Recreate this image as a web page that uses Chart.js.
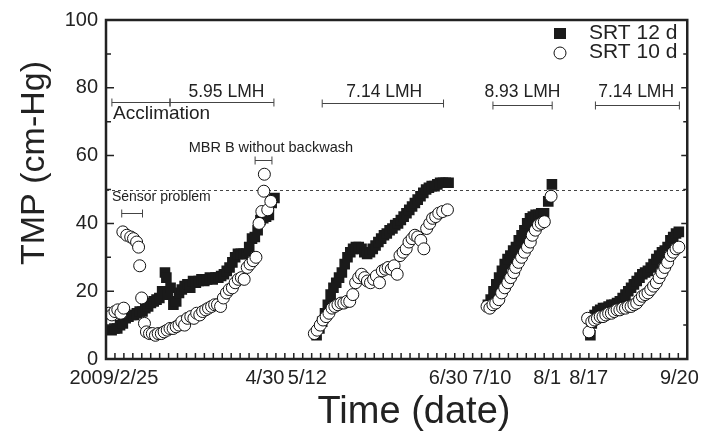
<!DOCTYPE html>
<html>
<head>
<meta charset="utf-8">
<script src="https://cdn.jsdelivr.net/npm/chart.js@4.4.1/dist/chart.umd.min.js"></script>
<style>
  html, body { margin: 0; padding: 0; background: #fff; }
</style>
</head>
<body>
<canvas id="tmpChart" width="706" height="440"></canvas>
<script>
// x = days since 2009/2/25, y = TMP (cm-Hg)
const srt12Days = [
  2, 3, 4, 5, 6, 7, 8, 9, 10, 11, 12, 13, 14, 15, 16, 17, 18, 19, 20, 21, 21.5, 22, 23, 24, 25, 26, 27, 28, 29, 30,
  31, 32, 33, 34, 35, 36, 37, 38, 39, 40, 41, 42, 43, 44, 45, 46, 47, 48, 49, 50, 51, 52, 53, 54, 55, 56, 57, 58, 59, 60,
  75, 76, 77, 78, 79, 80, 81, 82, 83, 84, 85, 86, 87, 88, 89, 90, 91, 92, 93, 94, 95, 96, 97, 98, 99, 100,
  101, 102, 103, 104, 105, 106, 107, 108, 109, 110, 111, 112, 113, 114, 115, 116, 117, 118, 119, 120, 121, 122,
  136, 137, 138, 139, 140, 141, 142, 143, 144, 145, 146, 147, 148, 149, 150, 151, 152, 153, 154, 155, 156, 157.5, 158.8,
  172, 172.5, 173, 174, 175, 176, 177, 178, 179, 180, 181, 182, 183, 184, 185, 186, 187, 188, 189, 190,
  191, 192, 193, 194, 195, 196, 197, 198, 199, 200, 201, 202, 203, 204
];
const srt12Tmp = [
  8.5, 9, 9, 10, 10.5, 12, 12.5, 13, 13, 13.5, 14, 14, 15, 15.5, 16.5, 17, 17.5, 18, 20, 25.5, 24, 19, 21, 16, 17, 19.5, 20.5, 21.5, 22, 21,
  23, 22.5, 23, 23.5, 23, 23.5, 24, 23.5, 24, 24, 24.5, 25, 26, 27, 28.5, 30, 31, 31, 31, 31, 33, 35.5, 36, 38, 41, 41.5, 42, 42.5, 46, 47.5,
  7, 9, 11, 13.5, 16, 19, 21, 22.5, 24, 25.5, 28, 30, 31.5, 32.5, 33, 33, 32.5, 31.5, 31, 31.5, 32.5, 33.5, 34.5, 35.5, 36.5, 37,
  38, 38.5, 39.5, 40, 41, 42, 43, 44, 45, 46, 47, 48, 49, 50, 50.5, 51, 51, 51.5, 52, 52, 52, 52,
  16, 17.5, 20, 22, 24, 26, 28, 29.5, 30.5, 32, 33, 35, 36.5, 38, 40, 41.5, 42, 42.5, 42.5, 43, 43, 46.5, 51.5,
  12, 7, 10.5, 13, 14, 14.5, 15, 15, 15.5, 16, 16, 16.5, 17, 18, 19, 20, 21, 22, 23, 24,
  25, 25.5, 26, 27, 28, 29.5, 30.5, 31.5, 32, 33, 35, 36, 37, 37.5
];
const srt10Days = [
  1, 2.1, 3.2, 4.2, 5.3, 6.3, 6, 7.4, 8.8, 9.8, 10.9, 11.6, 12, 12.7, 13.7,
  14.4, 15.5, 16.5, 17.6, 18.6, 19.7, 20.7, 21.8, 22.8, 23.9, 25, 26, 27, 28, 29, 30.2, 31.3, 32.3, 33.4, 34.4,
  35.5, 36.5, 37.6, 38.7, 39.7, 40.8, 41.8, 42.9, 43.9, 45, 46, 47.1, 48.2, 49.2, 50.3, 51.3, 52.4, 53.4,
  54.5, 55.5, 56.2, 56.4, 57.6, 58.7,
  74.2, 75.2, 76.3, 77.3, 78.4, 79.4, 80.5, 81.5, 82.6, 83.7, 84.7, 85.8, 86.8, 87.9, 88.9, 90, 91, 92.1, 93.1,
  94.2, 95.3, 96.3, 97.4, 98.4, 99.5, 100.5, 101.6, 102.6, 103.7, 104.7, 105.8, 106.9, 107.9, 109, 110, 111,
  112.1, 113.2, 114.2, 115.3, 116.3, 117.4, 118.5, 119.9, 121.6,
  135.7, 136.7, 137.8, 138.8, 139.9, 140.9, 142, 143.1, 144.1, 145.2, 145.9, 146.9, 148, 149, 150.1, 151.1,
  151.8, 152.9, 154, 155, 156.1, 158.5,
  171.5, 172, 173, 174, 175, 176, 177, 178, 179, 180, 181, 182, 183, 184, 185, 186, 187, 188, 189, 190,
  191, 192, 193, 194, 195, 196, 197, 198, 199, 200, 201, 202, 203, 204
];
const srt10Tmp = [
  13.5, 13, 14, 14.5, 13.5, 15, 37.5, 36.5, 36, 35.5, 34.5, 33, 27.5, 18, 10.5,
  8, 7.5, 7.5, 7, 7.5, 7.5, 8, 8.5, 9, 9, 9.5, 10, 11, 10, 12, 12.5, 12, 13.5, 13, 14,
  14.5, 15, 15.5, 16, 16, 15.5, 18, 19.5, 20.5, 21, 22.5, 23.5, 24, 23.5, 27, 28, 29, 30,
  40, 43.5, 49.5, 54.5, 44, 46.5,
  7.5, 8.5, 10, 11.5, 12.5, 13.5, 15, 15.5, 16, 16.5, 16.5, 17, 17, 19, 22.5, 24, 25, 24, 23,
  22.5, 23.5, 24.5, 22.5, 26, 26.5, 27, 26.5, 27.5, 25, 30.5, 31.5, 32.5, 34.5, 35.5, 36.5, 36,
  35, 32.5, 38.5, 40, 41.5, 42, 43, 43.5, 44,
  15.5, 15, 16, 16.5, 17.5, 19.5, 21, 22.5, 24, 25.5, 27, 28.5, 30, 31.5, 33, 34.5,
  36.5, 38, 39.5, 40, 40.5, 48,
  12, 8, 11, 11.5, 12, 12.5, 12.5, 13, 13.5, 13.5, 14, 14.5, 14.5, 15, 15, 15.5, 15.5, 16, 16.5, 17.5,
  18.5, 19, 19.5, 20.5, 21.5, 22.5, 24, 25.5, 27, 28.5, 30.5, 31.5, 32.5, 33
];
const tickDays = [2.8, 56.6, 71.7, 121.9, 137.4, 157.1, 171.9, 204.2];
const tickLabels = ['2009/2/25', '4/30', '5/12', '6/30', '7/10', '8/1', '8/17', '9/20'];

const xMax = 207;
const xStep = xMax / 65;
const ink = '#222';
const fontFamily = '"Liberation Sans", Arial, Helvetica, sans-serif';

const brackets = [
  {from: 2.1, to: 22.8, y: 75.7},
  {from: 22.8, to: 59.8, y: 75.7},
  {from: 77, to: 120.2, y: 75.4},
  {from: 137.8, to: 158.9, y: 74.9},
  {from: 174.3, to: 204.2, y: 74.9},
  {from: 53.1, to: 59.1, y: 58.8},
  {from: 5.6, to: 13, y: 43}
];
const notes = [
  {text: '5.95 LMH', x: 42.9, y: 78.7, size: 17.5, align: 'center'},
  {text: 'Acclimation', x: 2.5, y: 72.2, size: 19, align: 'left'},
  {text: '7.14 LMH', x: 99.1, y: 78.7, size: 17.5, align: 'center'},
  {text: '8.93 LMH', x: 148.3, y: 78.7, size: 17.5, align: 'center'},
  {text: '7.14 LMH', x: 188.8, y: 78.7, size: 17.5, align: 'center'},
  {text: 'MBR B without backwash', x: 58.7, y: 62.3, size: 14.5, align: 'center'},
  {text: 'Sensor problem', x: 2.1, y: 47.6, size: 14, align: 'left'}
];

function toPoints(xs, ys) {
  return xs.map((v, i) => ({x: v, y: ys[i]}));
}

const decorations = {
  id: 'decorations',
  beforeDatasetsDraw(chart) {
    const {ctx, chartArea: a, scales: {y}} = chart;
    ctx.save();
    ctx.strokeStyle = '#444';
    ctx.lineWidth = 1;
    ctx.setLineDash([3, 3]);
    const py = Math.round(y.getPixelForValue(50)) + 0.5;
    ctx.beginPath();
    ctx.moveTo(a.left, py);
    ctx.lineTo(a.right, py);
    ctx.stroke();
    ctx.restore();
  },
  afterDatasetsDraw(chart) {
    const {ctx, chartArea: a, scales: {x, y}} = chart;
    ctx.save();
    ctx.strokeStyle = ink;
    ctx.lineWidth = 1.5;
    ctx.beginPath();
    for (let v = 10; v < 100; v += 10) {
      const py = y.getPixelForValue(v);
      const major = v % 20 === 0;
      ctx.moveTo(a.left, py);
      ctx.lineTo(a.left + (major ? 8 : 5), py);
      ctx.moveTo(a.right, py);
      ctx.lineTo(a.right - (major ? 6 : 4), py);
    }
    for (let k = 1; k < 65; k++) {
      const px = x.getPixelForValue(k * xStep);
      ctx.moveTo(px, a.bottom);
      ctx.lineTo(px, a.bottom - 6);
    }
    ctx.stroke();

    ctx.lineWidth = 2.5;
    ctx.strokeRect(a.left, a.top, a.width, a.height);

    // interval brackets
    ctx.strokeStyle = '#444';
    ctx.lineWidth = 1;
    brackets.forEach(b => {
      const x1 = x.getPixelForValue(b.from);
      const x2 = x.getPixelForValue(b.to);
      const py = Math.round(y.getPixelForValue(b.y)) + 0.5;
      ctx.beginPath();
      ctx.moveTo(x1, py); ctx.lineTo(x2, py);
      ctx.moveTo(x1, py - 4); ctx.lineTo(x1, py + 4);
      ctx.moveTo(x2, py - 4); ctx.lineTo(x2, py + 4);
      ctx.stroke();
    });

    ctx.fillStyle = ink;
    ctx.textBaseline = 'middle';
    notes.forEach(n => {
      ctx.font = n.size + 'px ' + fontFamily;
      ctx.textAlign = n.align;
      ctx.fillText(n.text, x.getPixelForValue(n.x), y.getPixelForValue(n.y));
    });

    // legend
    ctx.fillStyle = '#1a1a1a';
    ctx.fillRect(554, 28, 12, 11);
    ctx.beginPath();
    ctx.arc(560, 53, 6, 0, Math.PI * 2);
    ctx.fillStyle = '#fff';
    ctx.fill();
    ctx.strokeStyle = '#111';
    ctx.stroke();
    ctx.fillStyle = ink;
    ctx.textAlign = 'left';
    ctx.font = '21px ' + fontFamily;
    ctx.fillText('SRT 12 d', 589, 33);
    ctx.fillText('SRT 10 d', 589, 52);

    // axis titles
    ctx.textBaseline = 'alphabetic';
    ctx.textAlign = 'center';
    ctx.font = '38px ' + fontFamily;
    ctx.fillText('Time (date)', 414, 423);
    ctx.save();
    ctx.translate(44, 163);
    ctx.rotate(-Math.PI / 2);
    ctx.font = '34px ' + fontFamily;
    ctx.fillText('TMP (cm-Hg)', 0, 0);
    ctx.restore();
    ctx.restore();
  }
};

new Chart(document.getElementById('tmpChart'), {
  type: 'scatter',
  data: {
    datasets: [
      {
        label: 'SRT 12 d',
        data: toPoints(srt12Days, srt12Tmp),
        pointStyle: 'rect',
        pointRadius: 7.5,
        pointBorderWidth: 0,
        backgroundColor: '#1a1a1a',
        borderColor: '#1a1a1a',
        order: 2
      },
      {
        label: 'SRT 10 d',
        data: toPoints(srt10Days, srt10Tmp),
        pointStyle: 'circle',
        pointRadius: 6,
        pointBorderWidth: 1,
        backgroundColor: '#fff',
        borderColor: '#111',
        order: 1
      }
    ]
  },
  options: {
    responsive: false,
    animation: false,
    layout: {padding: {left: 0, right: 11, top: 17, bottom: 0}},
    plugins: {
      legend: {display: false},
      tooltip: {enabled: false}
    },
    scales: {
      x: {
        type: 'linear',
        min: 0,
        max: xMax,
        border: {display: false},
        grid: {display: false, drawTicks: false},
        afterBuildTicks: scale => {
          scale.ticks = tickDays.map(v => ({value: v}));
        },
        afterFit: scale => { scale.height = 81; },
        ticks: {
          autoSkip: false,
          maxRotation: 0,
          padding: 7,
          color: ink,
          font: {family: fontFamily, size: 20},
          callback: (v, i) => tickLabels[i]
        }
      },
      y: {
        min: 0,
        max: 100,
        border: {display: false},
        grid: {display: false, drawTicks: false},
        afterFit: scale => { scale.width = 106; },
        ticks: {
          stepSize: 20,
          padding: 8,
          color: ink,
          font: {family: fontFamily, size: 20}
        }
      }
    }
  },
  plugins: [decorations]
});
</script>
</body>
</html>
